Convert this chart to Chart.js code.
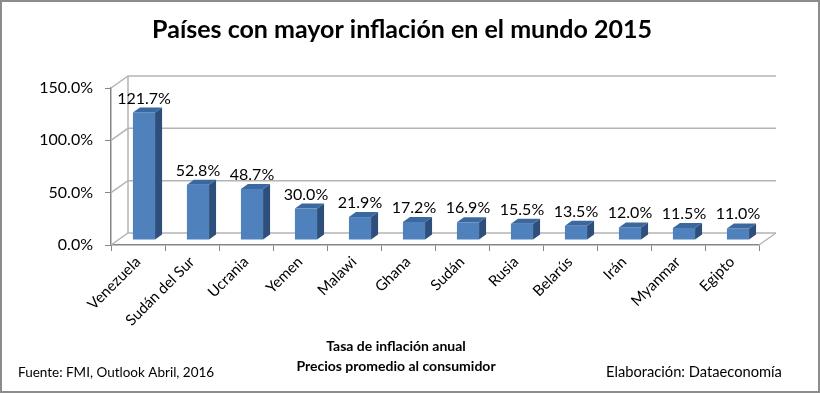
<!DOCTYPE html>
<html lang="es">
<head>
<meta charset="UTF-8">
<title>Países con mayor inflación en el mundo 2015</title>
<style>
  body { margin: 0; background: #fff; }
  #wrap { width: 820px; height: 394px; }
</style>
</head>
<body>
<div id="wrap"><canvas id="chart" width="820" height="394"></canvas></div>
<script src="https://cdn.jsdelivr.net/npm/chart.js"></script>
<script>
const paises = ['Venezuela', 'Sudán del Sur', 'Ucrania', 'Yemen', 'Malawi', 'Ghana',
                'Sudán', 'Rusia', 'Belarús', 'Irán', 'Myanmar', 'Egipto'];
const inflacion = [121.7, 52.8, 48.7, 30.0, 21.9, 17.2, 16.9, 15.5, 13.5, 12.0, 11.5, 11.0];
const ticksY = [0, 50, 100, 150];

const FONT = 'Lato, sans-serif';
// falso 3D: fondo de las paredes y grosor de las barras
const wallDX = 17, wallDY = -12;
const barDX = 6, barDY = -5;
const depthX = 7, depthY = -5;

const fake3d = {
  id: 'fake3d',
  beforeDatasetsDraw(chart) {
    const { ctx, chartArea: a, scales: { y } } = chart;
    ctx.save();
    ctx.strokeStyle = '#b4b4b4';
    ctx.lineWidth = 1.5;
    ticksY.forEach(v => {
      const yy = y.getPixelForValue(v);
      ctx.beginPath();
      ctx.moveTo(a.left, yy);
      ctx.lineTo(a.left + wallDX, yy + wallDY);
      ctx.lineTo(a.right + wallDX, yy + wallDY);
      ctx.stroke();
    });
    ctx.beginPath();
    ctx.moveTo(a.left + wallDX, y.getPixelForValue(0) + wallDY);
    ctx.lineTo(a.left + wallDX, y.getPixelForValue(150) + wallDY);
    ctx.moveTo(a.right, a.bottom);
    ctx.lineTo(a.right + wallDX, a.bottom + wallDY);
    ctx.stroke();
    ctx.restore();

    // barras un poco hacia el fondo
    ctx.save();
    ctx.translate(barDX, barDY);
  },
  afterDatasetsDraw(chart) {
    const ctx = chart.ctx;
    chart.getDatasetMeta(0).data.forEach((bar, i) => {
      const left = bar.x - bar.width / 2;
      const right = bar.x + bar.width / 2;

      ctx.fillStyle = '#2e4f7c';
      ctx.beginPath();
      ctx.moveTo(right, bar.base);
      ctx.lineTo(right + depthX, bar.base + depthY);
      ctx.lineTo(right + depthX, bar.y + depthY);
      ctx.lineTo(right, bar.y);
      ctx.closePath();
      ctx.fill();

      ctx.fillStyle = '#3c68a0';
      ctx.beginPath();
      ctx.moveTo(left, bar.y);
      ctx.lineTo(left + depthX, bar.y + depthY);
      ctx.lineTo(right + depthX, bar.y + depthY);
      ctx.lineTo(right, bar.y);
      ctx.closePath();
      ctx.fill();

      ctx.fillStyle = '#000';
      ctx.font = '16px ' + FONT;
      ctx.textAlign = 'center';
      ctx.textBaseline = 'alphabetic';
      ctx.fillText(inflacion[i].toFixed(1) + '%', bar.x, bar.y + depthY - 4);
    });
    ctx.restore();
  },
  afterDraw(chart) {
    const ctx = chart.ctx;
    ctx.save();
    ctx.fillStyle = '#000';
    ctx.textBaseline = 'alphabetic';

    ctx.font = 'bold 25px ' + FONT;
    ctx.textAlign = 'center';
    ctx.fillText('Países con mayor inflación en el mundo 2015', 402, 38);

    ctx.font = 'bold 14px ' + FONT;
    ctx.fillText('Tasa de inflación anual', 396, 351);
    ctx.fillText('Precios promedio al consumidor', 396, 371);

    ctx.textAlign = 'left';
    ctx.font = '13.5px ' + FONT;
    ctx.fillText('Fuente: FMI, Outlook Abril, 2016', 18, 377);
    ctx.font = '14.7px ' + FONT;
    ctx.fillText('Elaboración: Dataeconomía', 606, 377);

    ctx.strokeStyle = '#8c8c8c';
    ctx.lineWidth = 2;
    ctx.strokeRect(1, 1, 818, 391);
    ctx.restore();
  }
};

new Chart(document.getElementById('chart'), {
  type: 'bar',
  data: {
    labels: paises,
    datasets: [{
      data: inflacion,
      backgroundColor: '#4f81bd',
      borderWidth: 0,
      categoryPercentage: 1,
      barPercentage: 0.41
    }]
  },
  options: {
    responsive: false,
    animation: false,
    layout: { padding: { top: 88, right: 61, bottom: 0, left: 0 } },
    plugins: { legend: { display: false }, tooltip: { enabled: false } },
    scales: {
      x: {
        afterFit: s => { s.height = 149; },
        grid: { drawOnChartArea: false, tickLength: 6, color: '#868686' },
        border: { color: '#868686', width: 1.5 },
        ticks: {
          autoSkip: false, minRotation: 45, maxRotation: 45,
          padding: 2, color: '#000', font: { family: FONT, size: 15 }
        }
      },
      y: {
        min: 0, max: 150,
        afterFit: s => { s.width = 111; },
        afterBuildTicks: s => { s.ticks = ticksY.map(v => ({ value: v })); },
        grid: { drawOnChartArea: false, tickLength: 6, color: '#868686' },
        border: { color: '#868686', width: 1.5 },
        ticks: {
          padding: 12, color: '#000', font: { family: FONT, size: 16 },
          callback: v => v.toFixed(1) + '%'
        }
      }
    }
  },
  plugins: [fake3d]
});
</script>
</body>
</html>
